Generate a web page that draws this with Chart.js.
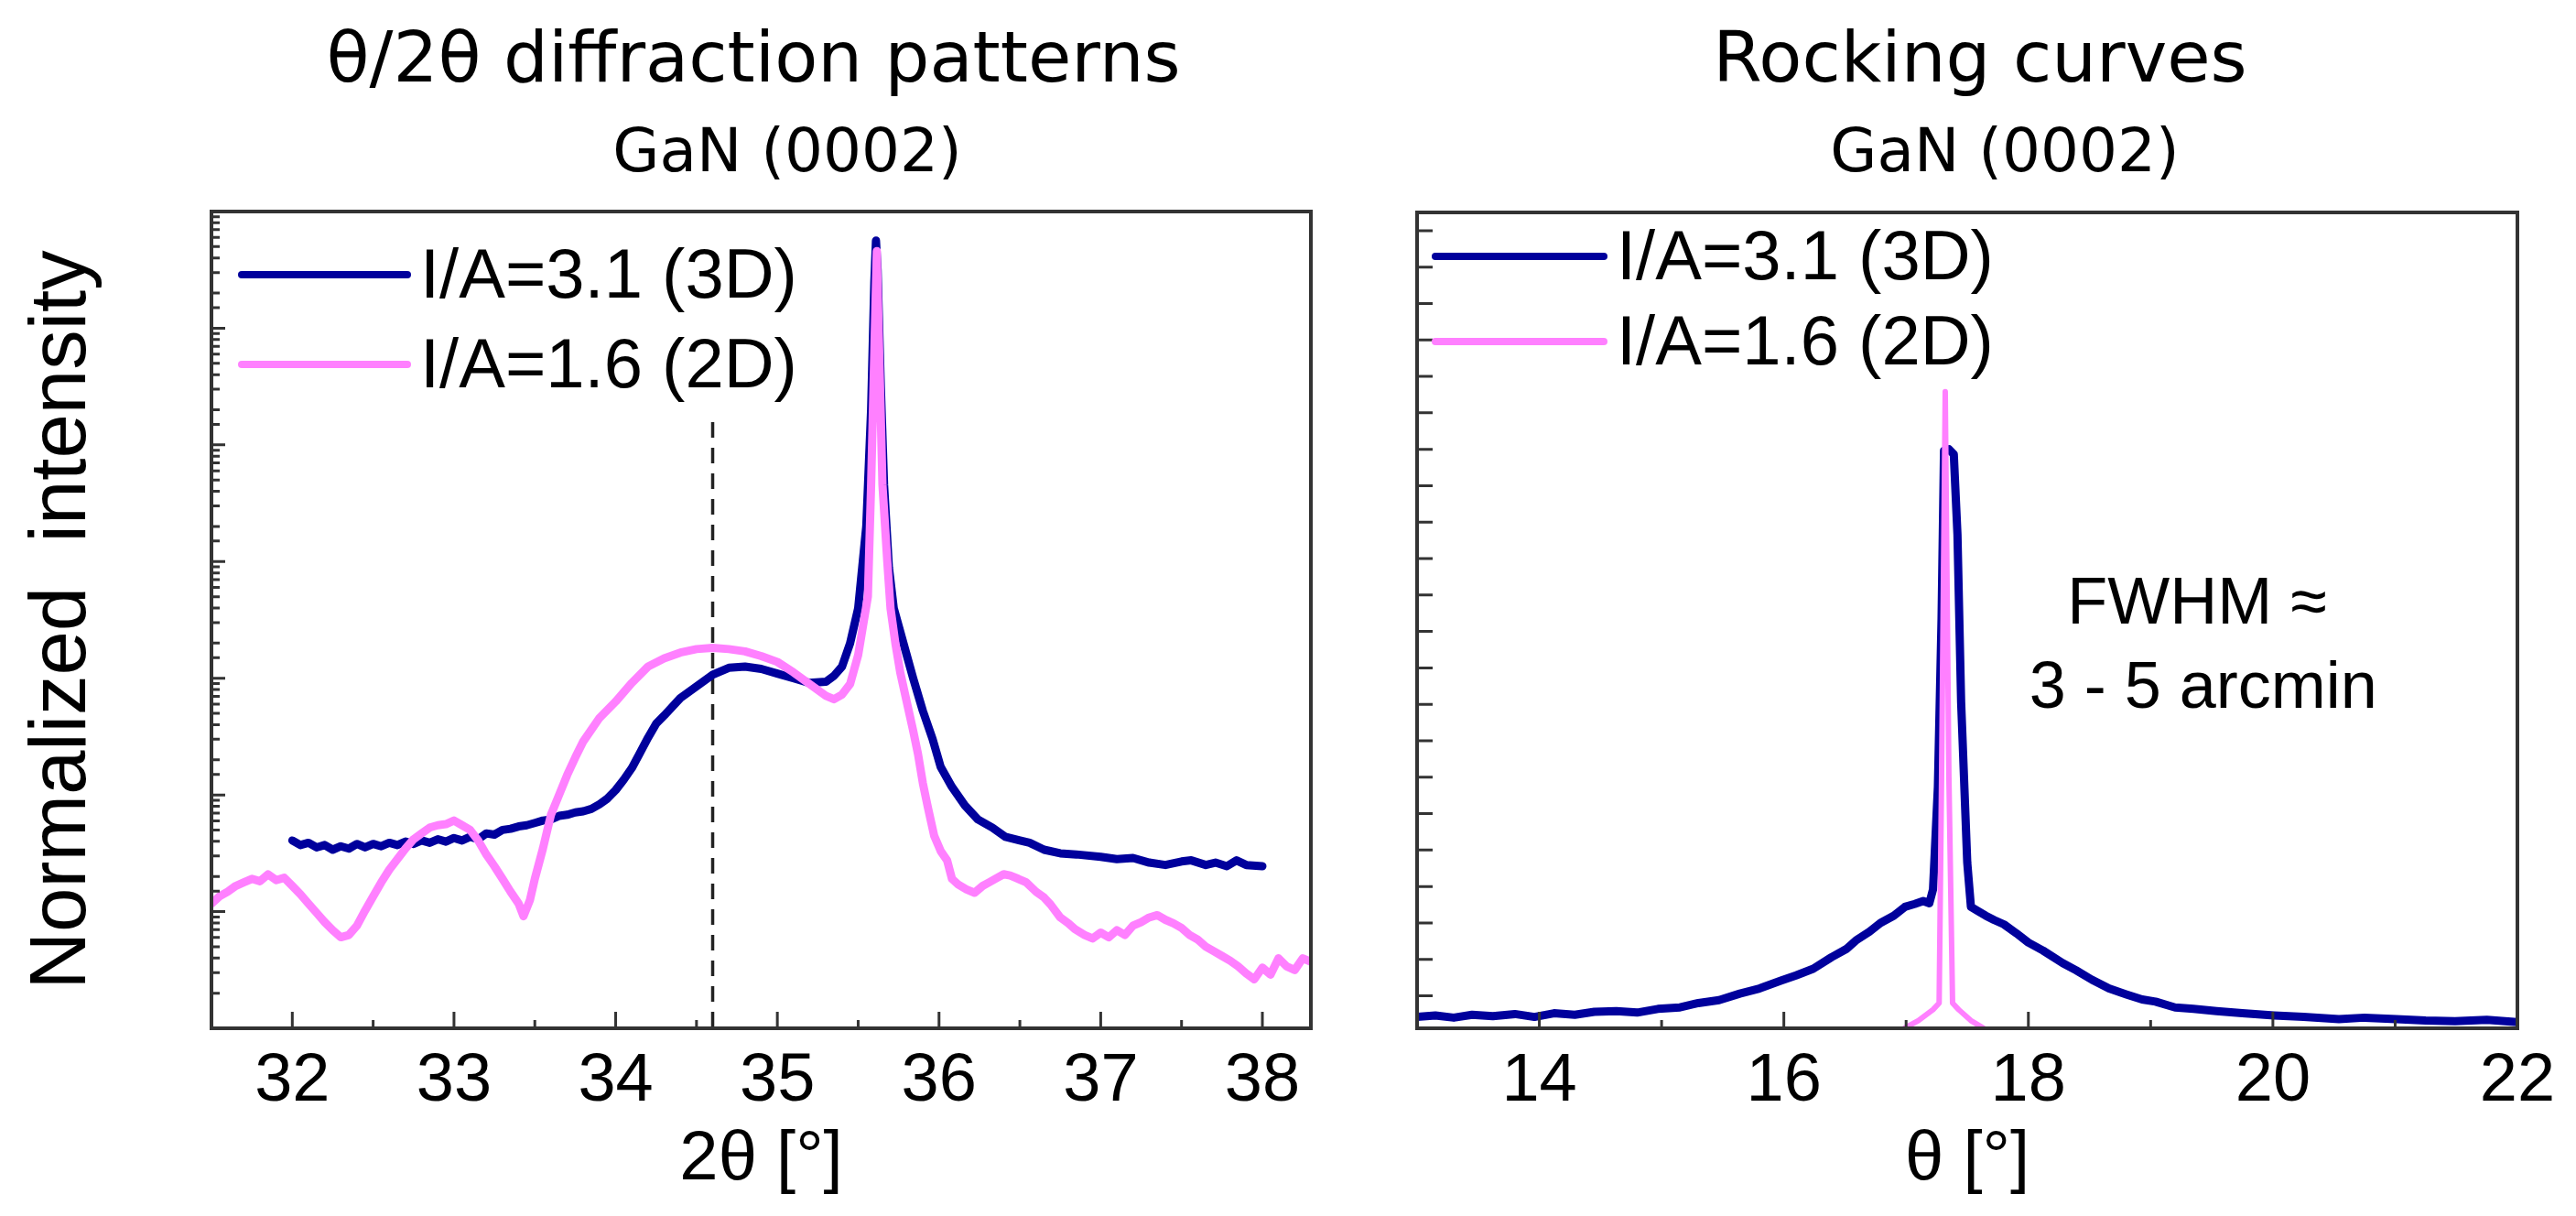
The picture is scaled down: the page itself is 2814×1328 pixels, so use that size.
<!DOCTYPE html>
<html>
<head>
<meta charset="utf-8">
<script src="https://cdn.jsdelivr.net/npm/chart.js@4.4.1/dist/chart.umd.min.js"></script>
<style>
  html, body { margin: 0; padding: 0; background: #fff; }
  body { width: 2814px; height: 1328px; position: relative; overflow: hidden; }
  canvas { position: absolute; top: 0; }
  #xrdChart { left: 0; width: 1480px; height: 1328px; }
  #rockChart { left: 1480px; width: 1334px; height: 1328px; }
</style>
</head>
<body>
<canvas id="xrdChart" width="1480" height="1328"></canvas>
<canvas id="rockChart" width="1334" height="1328"></canvas>
<script>
// theta/2theta scans (log intensity)
const xrd2Theta3D = [32.00, 32.05, 32.10, 32.15, 32.20, 32.25, 32.30, 32.35, 32.40, 32.45,
  32.50, 32.55, 32.60, 32.65, 32.70, 32.75, 32.80, 32.85, 32.90, 32.95,
  33.00, 33.05, 33.10, 33.15, 33.20, 33.25, 33.30, 33.35, 33.40, 33.45,
  33.50, 33.55, 33.60, 33.65, 33.70, 33.75, 33.80, 33.85, 33.90, 33.95,
  34.00, 34.05, 34.10, 34.15, 34.20, 34.25,
  34.30, 34.40, 34.50, 34.60, 34.70, 34.80, 34.90, 35.00, 35.10, 35.20, 35.30,
  35.35, 35.40, 35.45, 35.50, 35.55, 35.58, 35.60, 35.61, 35.62, 35.64, 35.66, 35.69, 35.72, 35.78, 35.84, 35.90, 35.96,
  36.01, 36.08, 36.16, 36.24, 36.33, 36.41, 36.50, 36.56, 36.65, 36.75, 36.85,
  37.00, 37.10, 37.20, 37.30, 37.40, 37.50, 37.56, 37.65, 37.71, 37.78, 37.84, 37.90, 38.00];
const xrdIntensity3D = [40.7, 37.2, 38.9, 35.5, 37.2, 33.9, 36.3, 34.7, 38.0, 35.5,
  38.0, 36.3, 38.9, 37.2, 39.8, 38.0, 40.7, 38.9, 41.7, 39.8,
  42.7, 40.7, 43.7, 41.7, 46.8, 45.7, 50.1, 51.3, 53.7, 55.0,
  57.5, 60.3, 61.7, 66.1, 67.6, 70.8, 72.4, 75.9, 83.2, 93.3,
  110, 135, 170, 229, 309, 407,
  479, 676, 851, 1072, 1230, 1259, 1202, 1096, 1000, 912, 933,
  1047, 1259, 1995, 3981, 19950, 199500, 2512000, 5623000, 3162000, 316200, 45710, 8913, 3981, 1995, 1000, 525, 302,
  174, 117, 81.3, 61.7, 52.5, 43.7, 40.7, 38.9, 33.9, 31.6, 30.9,
  29.5, 28.2, 28.8, 26.3, 25.1, 26.9, 27.5, 25.1, 26.3, 24.5, 27.5, 25.1, 24.5];

const xrd2Theta2D = [31.50, 31.55, 31.60, 31.65, 31.70, 31.75, 31.80, 31.85, 31.90, 31.95,
  32.00, 32.05, 32.10, 32.15, 32.20, 32.25, 32.30, 32.35, 32.40, 32.45,
  32.50, 32.55, 32.60, 32.65, 32.70, 32.75, 32.80, 32.85, 32.90, 32.95,
  33.00, 33.05, 33.10, 33.15, 33.20, 33.25, 33.30, 33.35, 33.40, 33.43,
  33.47, 33.50, 33.55, 33.60, 33.65, 33.70, 33.75, 33.80, 33.90, 34.00,
  34.10, 34.20, 34.30, 34.40, 34.50, 34.60, 34.70, 34.80, 34.90, 35.00,
  35.10, 35.20, 35.30, 35.35, 35.40, 35.45, 35.50, 35.53, 35.56, 35.58,
  35.60, 35.615, 35.63, 35.65, 35.68, 35.70, 35.73, 35.76, 35.80, 35.84,
  35.87, 35.90, 35.93, 35.97, 36.01, 36.05, 36.08, 36.12, 36.17, 36.22,
  36.27, 36.31, 36.36, 36.40, 36.44, 36.49, 36.54, 36.60, 36.65, 36.69,
  36.75, 36.80, 36.84, 36.90, 36.95, 37.00, 37.05, 37.10, 37.15, 37.20,
  37.25, 37.30, 37.35, 37.40, 37.45, 37.50, 37.55, 37.60, 37.65, 37.70,
  37.75, 37.80, 37.85, 37.90, 37.95, 38.00, 38.05, 38.10, 38.15, 38.20,
  38.25, 38.30];
const xrdIntensity2D = [11.7, 13.5, 14.8, 16.6, 17.8, 19.1, 18.2, 20.9, 18.6, 19.5,
  16.6, 14.1, 11.7, 9.77, 8.13, 6.92, 6.03, 6.31, 7.59, 10.2,
  13.5, 17.8, 22.9, 28.2, 34.7, 41.7, 46.8, 52.5, 55.0, 56.2,
  60.3, 55.0, 50.1, 40.7, 30.9, 24.5, 19.1, 14.8, 11.7, 9.12,
  12.6, 19.1, 34.7, 67.6, 100, 148, 209, 288, 457, 631,
  912, 1259, 1479, 1660, 1778, 1820, 1778, 1698, 1549, 1380,
  1122, 891, 708, 661, 724, 891, 1585, 2818, 5012, 45710,
  631000, 4571000, 631000, 45710, 10000, 3981, 1995, 1122, 631, 355,
  224, 126, 79.4, 44.7, 33.1, 27.5, 19.1, 17.0, 15.5, 14.5,
  16.6, 17.8, 19.5, 20.9, 20.4, 19.1, 17.8, 14.8, 13.2, 11.5,
  8.91, 7.94, 7.08, 6.31, 5.89, 6.61, 6.03, 6.92, 6.31, 7.59,
  8.13, 8.91, 9.33, 8.51, 7.94, 7.24, 6.31, 5.75, 5.01, 4.57,
  4.17, 3.80, 3.39, 2.95, 2.63, 3.31, 2.88, 3.98, 3.39, 3.16,
  3.98, 3.72];

// rocking curves (linear intensity)
const rockTheta3D = [13.00, 13.15, 13.30, 13.45, 13.62, 13.80, 13.96, 14.12, 14.29, 14.45,
  14.63, 14.80, 14.97, 15.15, 15.30, 15.47, 15.64, 15.80, 15.98, 16.10,
  16.24, 16.39, 16.51, 16.59, 16.70, 16.79, 16.90, 16.99, 17.07, 17.14,
  17.19, 17.22, 17.26, 17.29, 17.31, 17.35, 17.39, 17.42, 17.45, 17.50,
  17.53, 17.58, 17.65, 17.72, 17.80, 17.90, 18.00, 18.12, 18.28, 18.39,
  18.52, 18.66, 18.80, 18.93, 19.04, 19.20, 19.35, 19.54, 19.75, 20.01,
  20.25, 20.54, 20.75, 21.01, 21.25, 21.49, 21.75, 22.00];
const rockIntensity3D = [-0.029, -0.027, -0.030, -0.026, -0.028, -0.025, -0.029, -0.024, -0.026, -0.022,
  -0.021, -0.023, -0.018, -0.016, -0.010, -0.006, 0.003, 0.010, 0.021, 0.028,
  0.037, 0.053, 0.064, 0.076, 0.088, 0.100, 0.110, 0.122, 0.126, 0.130,
  0.127, 0.146, 0.287, 0.518, 0.748, 0.750, 0.743, 0.633, 0.403, 0.183,
  0.122, 0.117, 0.110, 0.104, 0.098, 0.086, 0.073, 0.062, 0.045, 0.035,
  0.022, 0.010, 0.002, -0.005, -0.008, -0.016, -0.018, -0.021, -0.024, -0.027,
  -0.029, -0.032, -0.030, -0.032, -0.034, -0.035, -0.033, -0.036];

const rockTheta2D = [16.99, 17.10, 17.22, 17.27, 17.29, 17.32, 17.35, 17.38, 17.43, 17.53, 17.63];
const rockIntensity2D = [-0.044, -0.034, -0.019, -0.010, 0.30, 0.829, 0.30, -0.010, -0.019, -0.034, -0.044];

const seriesLabels = ['I/A=3.1 (3D)', 'I/A=1.6 (2D)'];
const xrdTickLabels = [32, 33, 34, 35, 36, 37, 38];
const rockTickLabels = [14, 16, 18, 20, 22];

// dashed marker and the FWHM note
const markerTheta = [34.6];
const markerTop = [157000];
const noteLines = ['FWHM \u2248', '3 - 5 arcmin'];
const noteTheta = [19.38, 19.43];
const noteLevel = [0.511, 0.395];

const BLUE = '#00009c';
const PINK = '#ff80ff';

function toPoints(xs, ys) {
  return xs.map((x, i) => ({ x: x, y: ys[i] }));
}

// frame, inward ticks, titles, legend inside the plot
function makeDecor(cfg) {
  return {
    id: 'decor',
    beforeDatasetsDraw(chart) {
      if (!cfg.markers) return;
      const { ctx, chartArea, scales: { x, y } } = chart;
      ctx.save();
      ctx.strokeStyle = '#222';
      ctx.lineWidth = 3.5;
      ctx.setLineDash([17, 11]);
      cfg.markers.x.forEach((v, i) => {
        const px = x.getPixelForValue(v);
        ctx.beginPath();
        ctx.moveTo(px, y.getPixelForValue(cfg.markers.top[i]));
        ctx.lineTo(px, chartArea.bottom);
        ctx.stroke();
      });
      ctx.restore();
    },
    afterDraw(chart) {
      const { ctx, chartArea: a, scales: { x, y } } = chart;
      ctx.save();

      // titles
      ctx.fillStyle = '#000';
      ctx.textAlign = 'center';
      ctx.textBaseline = 'alphabetic';
      ctx.font = '77px "DejaVu Sans"';
      ctx.fillText(cfg.title, cfg.titleX, 89);
      ctx.font = '66px "DejaVu Sans"';
      ctx.fillText(cfg.subtitle, cfg.subX, 187);

      // inward tick marks
      ctx.strokeStyle = '#333';
      ctx.lineWidth = 3;
      ctx.beginPath();
      x.ticks.forEach(t => {
        if (t.value <= x.min + 1e-6 || t.value >= x.max - 1e-6) return;
        const px = x.getPixelForValue(t.value);
        const len = cfg.xLabels.includes(t.value) ? 18 : 9;
        ctx.moveTo(px, a.bottom);
        ctx.lineTo(px, a.bottom - len);
      });
      y.ticks.forEach(t => {
        if (t.value <= y.min * (cfg.logY ? 1.0001 : 1) + 1e-6 || t.value >= y.max - 1e-6) return;
        const py = y.getPixelForValue(t.value);
        let len = 17;
        if (cfg.logY) {
          const e = Math.log10(t.value);
          len = Math.abs(e - Math.round(e)) < 1e-6 ? 15 : 9;
        }
        ctx.moveTo(a.left, py);
        ctx.lineTo(a.left + len, py);
      });
      ctx.stroke();

      // frame
      ctx.strokeStyle = '#333';
      ctx.lineWidth = 4;
      ctx.strokeRect(a.left, a.top, a.right - a.left, a.bottom - a.top);

      // legend
      chart.data.datasets.forEach((ds, i) => {
        const ly = a.top + cfg.legendY + i * cfg.legendRow;
        const lx = a.left + cfg.legendX;
        ctx.strokeStyle = ds.borderColor;
        ctx.lineWidth = 8;
        ctx.lineCap = 'round';
        ctx.beginPath();
        ctx.moveTo(lx, ly);
        ctx.lineTo(lx + cfg.legendLine, ly);
        ctx.stroke();
        ctx.fillStyle = '#000';
        ctx.font = '76px "Liberation Sans"';
        ctx.textAlign = 'left';
        ctx.textBaseline = 'middle';
        ctx.fillText(ds.label, lx + cfg.legendLine + 14, ly + 4);
      });

      // notes
      if (cfg.notes) {
        ctx.fillStyle = '#000';
        ctx.font = '72px "Liberation Sans"';
        ctx.textAlign = 'center';
        ctx.textBaseline = 'alphabetic';
        cfg.notes.text.forEach((s, i) => {
          ctx.fillText(s, x.getPixelForValue(cfg.notes.x[i]), y.getPixelForValue(cfg.notes.y[i]));
        });
      }
      ctx.restore();
    }
  };
}

const tickFont = { family: 'Liberation Sans', size: 74 };
const axisFont = { family: 'Liberation Sans', size: 76 };

// left panel
new Chart(document.getElementById('xrdChart'), {
  type: 'line',
  data: {
    datasets: [{
      label: seriesLabels[0],
      data: toPoints(xrd2Theta3D, xrdIntensity3D),
      borderColor: BLUE,
      borderWidth: 9,
      order: 2
    }, {
      label: seriesLabels[1],
      data: toPoints(xrd2Theta2D, xrdIntensity2D),
      borderColor: PINK,
      borderWidth: 9,
      order: 1
    }]
  },
  options: {
    responsive: false,
    animation: false,
    devicePixelRatio: 1,
    elements: {
      point: { radius: 0 },
      line: { tension: 0, borderJoinStyle: 'round', borderCapStyle: 'round', fill: false }
    },
    layout: { padding: { left: 0, right: 48, top: 231, bottom: 0 } },
    plugins: { legend: { display: false }, tooltip: { enabled: false }, title: { display: false } },
    scales: {
      x: {
        type: 'linear',
        min: 31.5,
        max: 38.3,
        grid: { display: false, drawTicks: false },
        border: { display: false },
        ticks: {
          stepSize: 0.5,
          includeBounds: false,
          autoSkip: false,
          maxRotation: 0,
          padding: 14,
          color: '#000',
          font: tickFont,
          callback: v => xrdTickLabels.includes(v) ? String(v) : ''
        },
        title: { display: true, text: '2\u03b8 [\u00b0]', color: '#000', font: axisFont, padding: { top: 0, bottom: 15 } },
        afterFit: s => { s.height = 205; }
      },
      y: {
        type: 'logarithmic',
        min: 1,
        max: 1e7,
        grid: { display: false, drawTicks: false },
        border: { display: false },
        ticks: { display: false },
        title: {
          display: true,
          text: 'Normalized  intensity',
          color: '#000',
          font: { family: 'Liberation Sans', size: 87 },
          padding: { top: 17, bottom: 0 }
        },
        afterFit: s => { s.width = 231; }
      }
    }
  },
  plugins: [makeDecor({
    title: '\u03b8/2\u03b8 diffraction patterns', titleX: 823,
    subtitle: 'GaN (0002)', subX: 860,
    xLabels: xrdTickLabels, logY: true,
    legendX: 33, legendY: 69, legendRow: 98, legendLine: 181,
    markers: { x: markerTheta, top: markerTop }
  })]
});

// right panel
new Chart(document.getElementById('rockChart'), {
  type: 'line',
  data: {
    datasets: [{
      label: seriesLabels[0],
      data: toPoints(rockTheta3D, rockIntensity3D),
      borderColor: BLUE,
      borderWidth: 9,
      order: 2
    }, {
      label: seriesLabels[1],
      data: toPoints(rockTheta2D, rockIntensity2D),
      borderColor: PINK,
      borderWidth: 6,
      order: 1
    }]
  },
  options: {
    responsive: false,
    animation: false,
    devicePixelRatio: 1,
    elements: {
      point: { radius: 0 },
      line: { tension: 0, borderJoinStyle: 'round', borderCapStyle: 'round', fill: false }
    },
    layout: { padding: { left: 0, right: 64, top: 232, bottom: 0 } },
    plugins: { legend: { display: false }, tooltip: { enabled: false }, title: { display: false } },
    scales: {
      x: {
        type: 'linear',
        min: 13,
        max: 22,
        grid: { display: false, drawTicks: false },
        border: { display: false },
        ticks: {
          stepSize: 1,
          autoSkip: false,
          maxRotation: 0,
          padding: 14,
          color: '#000',
          font: tickFont,
          callback: v => rockTickLabels.includes(v) ? String(v) : ''
        },
        title: { display: true, text: '\u03b8 [\u00b0]', color: '#000', font: axisFont, padding: { top: 0, bottom: 15 } },
        afterFit: s => { s.height = 205; }
      },
      y: {
        type: 'linear',
        min: -0.0446,
        max: 1.075,
        grid: { display: false, drawTicks: false },
        border: { display: false },
        ticks: { display: false, stepSize: 0.05 },
        afterFit: s => { s.width = 68; }
      }
    }
  },
  plugins: [makeDecor({
    title: 'Rocking curves', titleX: 683,
    subtitle: 'GaN (0002)', subX: 710,
    xLabels: rockTickLabels, logY: false,
    legendX: 20, legendY: 48, legendRow: 93, legendLine: 184,
    notes: { text: noteLines, x: noteTheta, y: noteLevel }
  })]
});
</script>
</body>
</html>
